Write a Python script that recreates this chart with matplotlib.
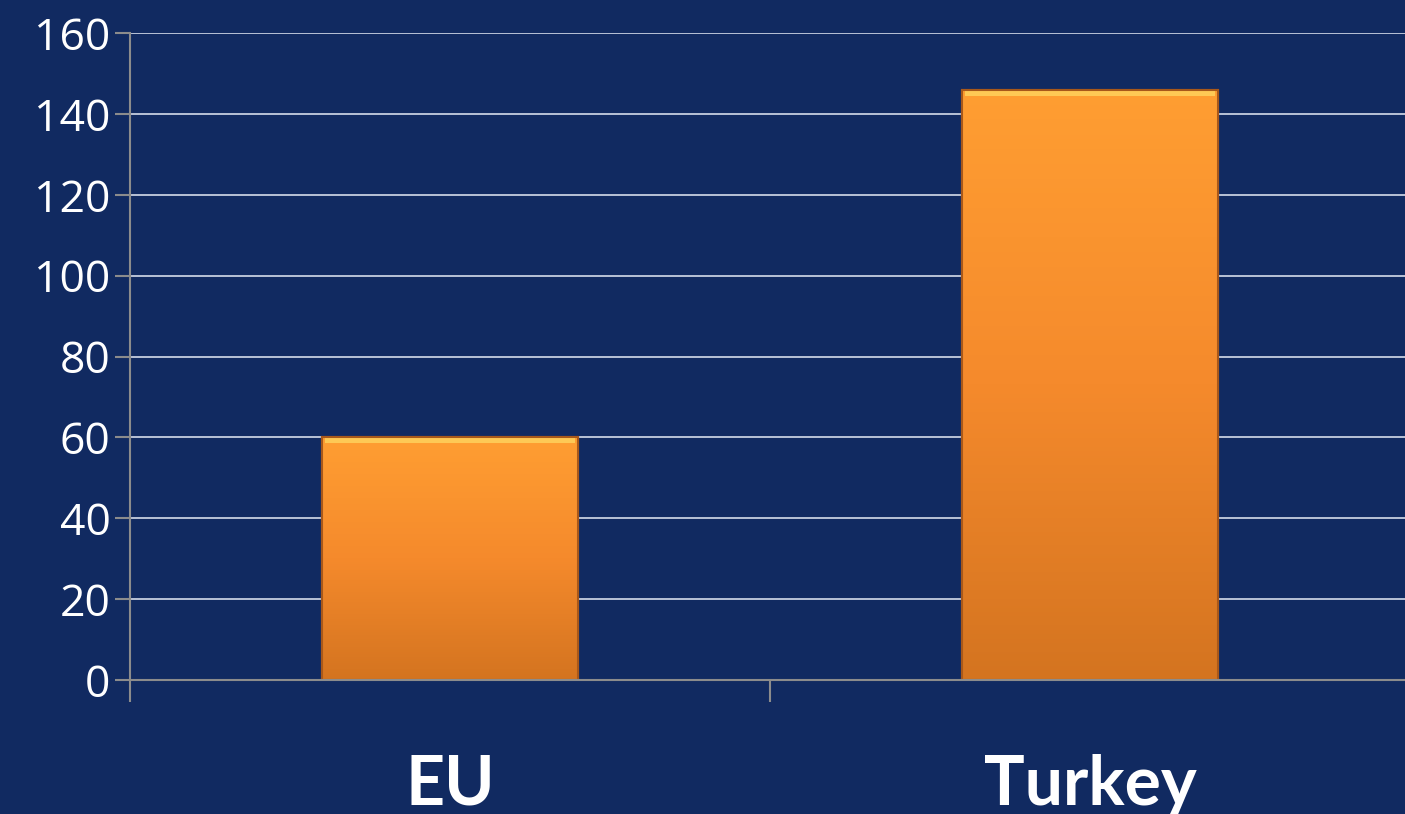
import matplotlib
matplotlib.use("Agg")
import matplotlib.pyplot as plt
import numpy as np
from matplotlib.colors import LinearSegmentedColormap

categories = ["EU", "Turkey"]
values = [60, 146]
yticks = [0, 20, 40, 60, 80, 100, 120, 140, 160]

BG = "#112a61"
fig = plt.figure(figsize=(14.05, 8.14), dpi=100, facecolor=BG)
ax = fig.add_axes([130/1405, 1-680/814, 1280/1405, 647/814])
ax.set_facecolor(BG)

x = np.arange(len(categories))
bars = ax.bar(x, values, width=0.40, color="#f28a2a", edgecolor="#b8651c",
              linewidth=1.5, zorder=3)

cmap = LinearSegmentedColormap.from_list("g", ["#d47420", "#f58a2c", "#ff9e32"])
grad = np.linspace(0, 1, 256).reshape(-1, 1)
for b in bars:
    x0, w, h = b.get_x(), b.get_width(), b.get_height()
    im = ax.imshow(grad, extent=[x0, x0 + w, 0, h], origin="lower", cmap=cmap,
                   aspect="auto", zorder=3.5)
    im.set_clip_path(b)
    # top highlight strip
    ax.add_patch(plt.Rectangle((x0 + w*0.01, h - 1.5), w*0.98, 1.3,
                               color="#ffcf5a", alpha=0.9, zorder=4, lw=0))
    ax.add_patch(plt.Rectangle((x0, 0), w, h, fill=False, ec="#a8581a",
                               lw=1.5, zorder=4.5))

ax.set_xlim(-0.5, 1.5)
ax.set_ylim(0, 160)
ax.set_yticks(yticks)
ax.set_yticklabels([str(v) for v in yticks], fontsize=32, color="white",
                   family=["Open Sans", "DejaVu Sans"])
ax.yaxis.grid(True, color="#d5dcea", linewidth=1.2, zorder=1)
ax.set_axisbelow(True)

ax.set_xticks(x)
ax.set_xticklabels(categories, fontsize=49, fontweight="bold", color="white",
                   family=["Lato", "DejaVu Sans"])
ax.tick_params(axis="x", which="major", length=0, pad=53)
ax.set_xticks([-0.5, 0.5, 1.5], minor=True)
ax.tick_params(axis="x", which="minor", length=16, width=1.5, color="#8c8c8c")
ax.tick_params(axis="y", length=11, width=1.5, color="#8c8c8c", pad=3)

for s in ["top", "right"]:
    ax.spines[s].set_visible(False)
for s in ["left", "bottom"]:
    ax.spines[s].set_color("#8c8c8c")
    ax.spines[s].set_linewidth(1.5)
    ax.spines[s].set_zorder(5)

fig.savefig("out.png", dpi=100, facecolor=BG)
